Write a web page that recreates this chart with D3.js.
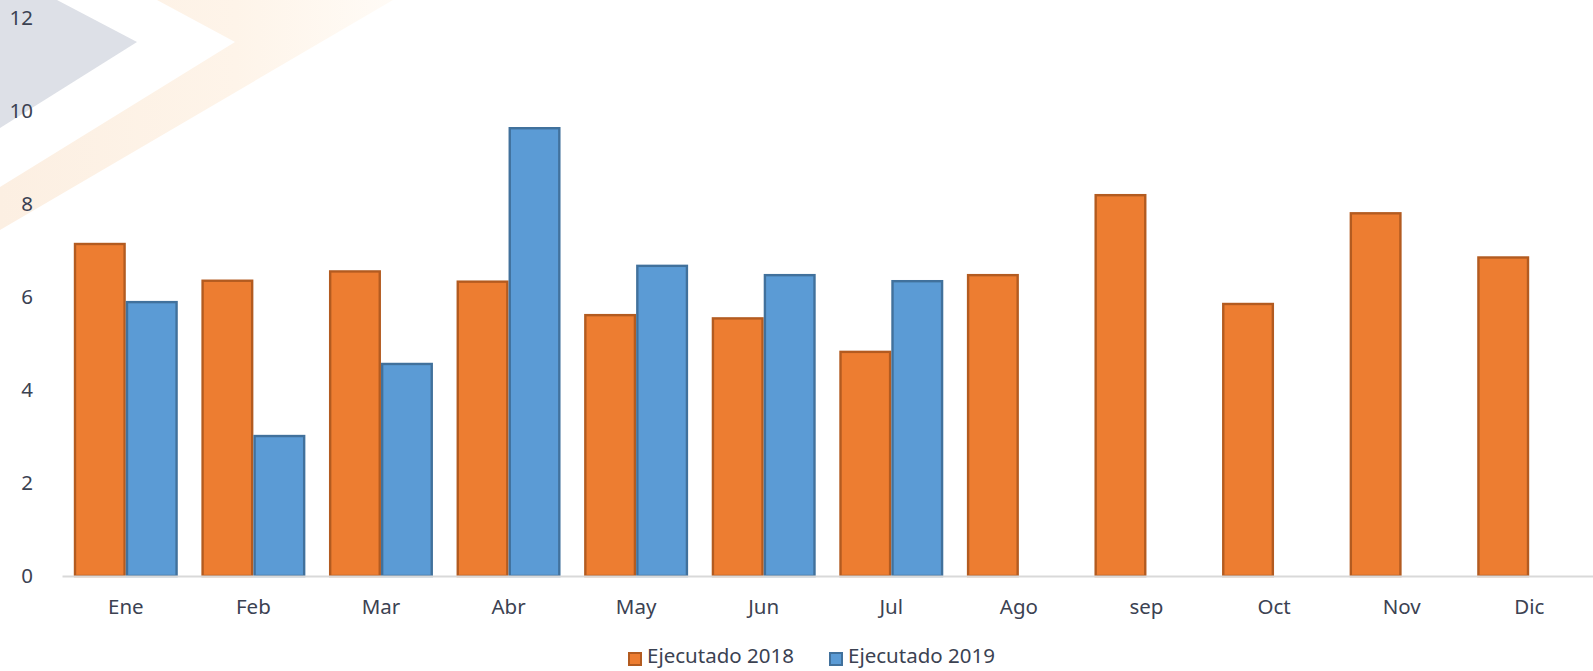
<!DOCTYPE html>
<html>
<head>
<meta charset="utf-8">
<script src="https://cdn.jsdelivr.net/npm/d3@7"></script>
<style>
  html, body { margin: 0; padding: 0; background: #fff; }
  svg { display: block; font-family: "Noto Sans", "Open Sans", sans-serif; }
  .axis text, .legend text { fill: #3b4252; font-size: 20.5px; font-family: "Noto Sans", "Open Sans", sans-serif; }
</style>
</head>
<body>
<div id="chart"></div>
<script>
// months on the x axis
const months = ["Ene", "Feb", "Mar", "Abr", "May", "Jun", "Jul", "Ago", "sep", "Oct", "Nov", "Dic"];
// series values (2019 only runs to Jul)
const ejecutado2018 = [7.14, 6.35, 6.55, 6.33, 5.61, 5.54, 4.82, 6.47, 8.19, 5.85, 7.8, 6.85];
const ejecutado2019 = [5.89, 3.01, 4.56, 9.63, 6.67, 6.47, 6.34, null, null, null, null, null];
const seriesNames = ["Ejecutado 2018", "Ejecutado 2019"];
const yTicks = [0, 2, 4, 6, 8, 10, 12];

const widthSvg = 1593;
const heightSvg = 671;

const fills = ["#ED7D31", "#5B9BD5"];
const strokes = ["#B35B20", "#41719C"];

const svg = d3.select("#chart").append("svg")
    .attr("width", widthSvg)
    .attr("height", heightSvg);

// faint logo watermark in the top left corner
const defs = svg.append("defs");
const grad = defs.append("linearGradient")
    .attr("id", "wmOrange")
    .attr("x1", "0").attr("y1", "0").attr("x2", "1").attr("y2", "0");
grad.append("stop").attr("offset", "0").attr("stop-color", "#FCEFE2");
grad.append("stop").attr("offset", "0.6").attr("stop-color", "#FEF4E9");
grad.append("stop").attr("offset", "1").attr("stop-color", "#FFFBF6");

svg.append("polygon")
    .attr("points", "0,0 57,0 137,42 0,128")
    .attr("fill", "#DDE0E7");
svg.append("polygon")
    .attr("points", "157,0 393,0 0,230 0,187 235,42")
    .attr("fill", "url(#wmOrange)");

const x0 = d3.scaleBand()
    .domain(months)
    .range([62, 1593])
    .paddingInner(0.185)
    .paddingOuter(0.0925);

const x1 = d3.scaleBand()
    .domain(seriesNames)
    .range([0, x0.bandwidth()]);

const y = d3.scaleLinear()
    .domain([0, 12])
    .range([576, 18]);

const rows = months.map(function(m, i) {
  return {month: m, values: [ejecutado2018[i], ejecutado2019[i]]};
});

// y axis labels only, no line
const yAxis = svg.append("g")
    .attr("class", "axis")
    .attr("transform", "translate(33,0)")
    .call(d3.axisLeft(y).tickValues(yTicks).tickSize(0).tickPadding(0));
yAxis.select(".domain").remove();

// bars
const groups = svg.selectAll(".month")
    .data(rows)
    .enter().append("g")
    .attr("class", "month")
    .attr("transform", function(d) { return "translate(" + x0(d.month) + ",0)"; });

groups.selectAll("rect")
    .data(function(d) {
      return d.values.map(function(v, k) { return {series: seriesNames[k], k: k, value: v}; })
        .filter(function(e) { return e.value != null; });
    })
    .enter().append("rect")
    .attr("x", function(d) { return x1(d.series) + 1.2; })
    .attr("y", function(d) { return y(d.value); })
    .attr("width", x1.bandwidth() - 2.4)
    .attr("height", function(d) { return y(0) - y(d.value); })
    .attr("fill", function(d) { return fills[d.k]; })
    .attr("stroke", function(d) { return strokes[d.k]; })
    .attr("stroke-width", 2.4);

// x axis
const xAxis = svg.append("g")
    .attr("class", "axis")
    .attr("transform", "translate(0,576)")
    .call(d3.axisBottom(x0).tickSize(0).tickSizeOuter(0).tickPadding(23));
xAxis.select(".domain")
    .attr("stroke", "#D9D9D9")
    .attr("stroke-width", 2);

// legend
const legend = svg.append("g").attr("class", "legend");
const legendX = [628, 829];
seriesNames.forEach(function(name, k) {
  legend.append("rect")
    .attr("x", legendX[k] + 1)
    .attr("y", 653)
    .attr("width", 12)
    .attr("height", 12)
    .attr("fill", fills[k])
    .attr("stroke", strokes[k])
    .attr("stroke-width", 2);
  legend.append("text")
    .attr("x", legendX[k] + 19)
    .attr("y", 656)
    .attr("dy", "0.35em")
    .text(name);
});
</script>
</body>
</html>
